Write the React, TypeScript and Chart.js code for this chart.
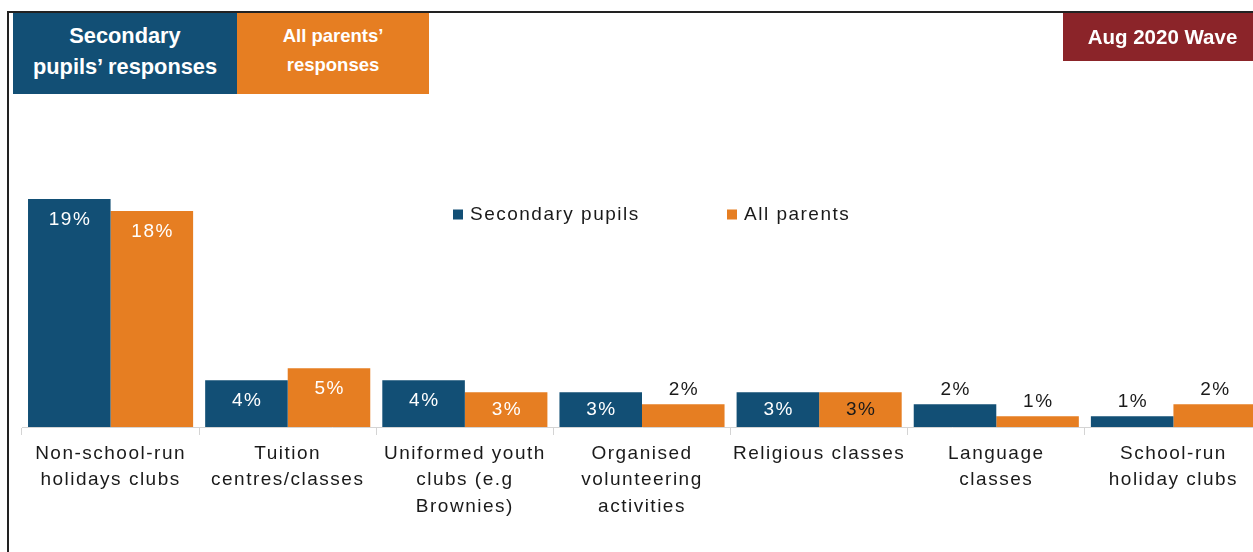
import React, { useEffect, useRef } from 'react';
import { Chart, registerables } from 'chart.js';

Chart.register(...registerables);

// ---------- data ----------
const categories: string[][] = [
  ['Non-school-run', 'holidays clubs'],
  ['Tuition', 'centres/classes'],
  ['Uniformed youth', 'clubs (e.g', 'Brownies)'],
  ['Organised', 'volunteering', 'activities'],
  ['Religious classes'],
  ['Language', 'classes'],
  ['School-run', 'holiday clubs'],
];
const seriesNames = ['Secondary pupils', 'All parents'];
const secondaryPupils = [19, 3.9, 3.9, 2.9, 2.9, 1.9, 0.9];
const allParents = [18, 4.9, 2.9, 1.9, 2.9, 0.9, 1.9];
const yMin = 0;
const yMax = 25;
const headerPupils = ['Secondary', 'pupils\u2019 responses'];
const headerParents = ['All parents\u2019', 'responses'];
const headerWave = ['Aug 2020 Wave'];

// ---------- styles ----------
const FONT = "'Liberation Sans', Arial, Helvetica, sans-serif";
const BLUE = '#124F75';
const ORANGE = '#E67E22';
const RED = '#8B2429';
const DARK = '#1a1a1a';
const SPACING = '1.5px';

const letterSpacingPlugin = {
  id: 'letterSpacing',
  beforeDraw(chart: any) {
    chart.ctx.letterSpacing = SPACING;
  },
};

const valueLabelPlugin = {
  id: 'valueLabels',
  afterDatasetsDraw(chart: any) {
    const ctx = chart.ctx;
    ctx.save();
    ctx.letterSpacing = SPACING;
    ctx.font = `19px ${FONT}`;
    ctx.textAlign = 'center';
    ctx.textBaseline = 'middle';
    chart.data.datasets.forEach((ds: any, di: number) => {
      const meta = chart.getDatasetMeta(di);
      meta.data.forEach((bar: any, i: number) => {
        const { x, y, base } = bar.getProps(['x', 'y', 'base'], true);
        const v = ds.data[i] as number;
        const h = base - y;
        const text = Math.round(v) + '%';
        let ty: number;
        let color: string;
        if (h >= 30) {
          ty = Math.min(y + 20.5, (y + base) / 2);
          color = ds.labelColors[i];
        } else {
          ty = y - 14;
          color = DARK;
        }
        ctx.fillStyle = color;
        ctx.fillText(text, x + 0.75, ty);
      });
    });
    ctx.restore();
  },
};

const legendPlugin = {
  id: 'customLegend',
  afterDraw(chart: any) {
    const ctx = chart.ctx;
    const area = chart.chartArea;
    const xs = [area.left + 431, area.left + 705];
    const cy = 214.5;
    ctx.save();
    ctx.letterSpacing = SPACING;
    ctx.font = `19px ${FONT}`;
    ctx.textAlign = 'left';
    ctx.textBaseline = 'middle';
    chart.data.datasets.forEach((ds: any, di: number) => {
      const x = xs[di];
      ctx.fillStyle = ds.backgroundColor;
      ctx.fillRect(x, cy - 5, 10, 10);
      ctx.fillStyle = DARK;
      ctx.fillText(ds.label, x + 17, cy);
    });
    ctx.restore();
  },
};

function HeaderBox(props: {
  left: number; top: number; width: number; height: number; bg: string;
  lines: string[]; fontSize: number; lineHeight: number; textTop: number;
}) {
  const { left, top, width, height, bg, lines, fontSize, lineHeight, textTop } = props;
  return (
    <div style={{ position: 'absolute', left, top, width, height, background: bg, overflow: 'hidden' }}>
      <div
        style={{
          position: 'absolute', left: 0, top: textTop, width: '100%', textAlign: 'center',
          color: '#fff', fontFamily: FONT, fontWeight: 'bold', fontSize, lineHeight: `${lineHeight}px`,
          whiteSpace: 'nowrap',
        }}
      >
        {lines.map((l, i) => (
          <div key={i}>{l}</div>
        ))}
      </div>
    </div>
  );
}

export default function App() {
  const ref = useRef<HTMLCanvasElement>(null);

  useEffect(() => {
    if (!ref.current) return;
    const chart = new Chart(ref.current, {
      type: 'bar',
      data: {
        labels: categories,
        datasets: [
          {
            label: seriesNames[0],
            data: secondaryPupils,
            backgroundColor: BLUE,
            categoryPercentage: 0.932,
            barPercentage: 1,
            labelColors: ['#fff', '#fff', '#fff', '#fff', '#fff', '#fff', '#fff'],
          } as any,
          {
            label: seriesNames[1],
            data: allParents,
            backgroundColor: ORANGE,
            categoryPercentage: 0.932,
            barPercentage: 1,
            labelColors: ['#fff', '#fff', '#fff', '#fff', DARK, '#fff', '#fff'],
          } as any,
        ],
      },
      options: {
        responsive: false,
        maintainAspectRatio: false,
        animation: false,
        layout: { padding: { top: 127, left: 22, right: 38, bottom: 0 } },
        plugins: {
          legend: { display: false },
          tooltip: { enabled: false },
        },
        scales: {
          x: {
            grid: {
              display: true,
              drawOnChartArea: false,
              drawTicks: true,
              tickLength: 8,
              color: '#d4d4d4',
              offset: true,
            },
            border: { display: true, color: '#d4d4d4', width: 1 },
            ticks: {
              color: DARK,
              font: { family: FONT, size: 19, lineHeight: 1.4 },
              padding: 5,
              maxRotation: 0,
              minRotation: 0,
              autoSkip: false,
            },
            afterFit: (scale: any) => {
              scale.height = 125;
            },
          },
          y: {
            display: false,
            min: yMin,
            max: yMax,
          },
        },
      },
      plugins: [letterSpacingPlugin, valueLabelPlugin, legendPlugin],
    });
    return () => chart.destroy();
  }, []);

  return (
    <div
      style={{
        position: 'absolute', left: 0, top: 0, width: 1253, height: 552,
        overflow: 'hidden', background: '#fff',
      }}
    >
      <canvas
        ref={ref}
        width={1300}
        height={552}
        style={{ position: 'absolute', left: 0, top: 0, width: 1300, height: 552 }}
      />
      <div
        style={{
          position: 'absolute', left: 7, top: 11, width: 1400, height: 700,
          borderLeft: '2px solid #222', borderTop: '2px solid #222', boxSizing: 'border-box',
        }}
      />
      <HeaderBox left={13} top={13} width={224} height={81} bg={BLUE} lines={headerPupils}
        fontSize={21.8} lineHeight={31} textTop={7} />
      <HeaderBox left={237} top={13} width={192} height={81} bg={ORANGE} lines={headerParents}
        fontSize={18.5} lineHeight={29} textTop={7.5} />
      <HeaderBox left={1063} top={13} width={199} height={48} bg={RED} lines={headerWave}
        fontSize={20.5} lineHeight={30} textTop={9} />
    </div>
  );
}
